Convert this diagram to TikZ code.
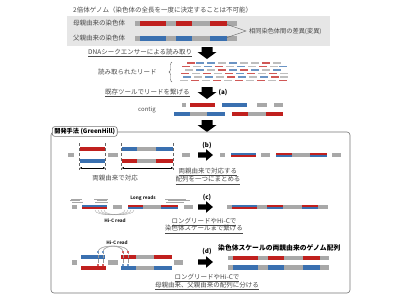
\documentclass[tikz,border=0pt]{standalone}
\usepackage{fontspec}
\setmainfont{Noto Sans CJK JP}
\usetikzlibrary{arrows.meta,decorations.pathreplacing}
\definecolor{rd}{HTML}{C0201E}
\definecolor{bl}{HTML}{3A70B0}
\definecolor{gr}{HTML}{A8A8A8}
\definecolor{bg}{HTML}{E6E6E6}
\definecolor{tx}{HTML}{484848}
\newcommand{\bseg}[4]{\fill[#1] (#2,{#4-2.2}) rectangle (#3,{#4+2.2});}
\newcommand{\mseg}[5]{\fill[#1] (#3,{#5-2.4}) rectangle (#4,#5); \fill[#2] (#3,#5) rectangle (#4,{#5+2.4});}
\newcommand{\myrarr}[2]{\fill (#1,{#2-2.6}) -- ({#1+8},{#2-2.6}) -- ({#1+8},{#2-5.8}) -- ({#1+15},#2) -- ({#1+8},{#2+5.8}) -- ({#1+8},{#2+2.6}) -- (#1,{#2+2.6}) -- cycle;}
\newcommand{\mydarr}[3]{\fill ({#1-5.5},#2) -- ({#1+5.5},#2) -- ({#1+5.5},{#3-7}) -- ({#1+9.5},{#3-7}) -- (#1,#3) -- ({#1-9.5},{#3-7}) -- ({#1-5.5},{#3-7}) -- cycle;}
\tikzset{
  jp/.style={font=\fontsize{6.5}{7.5}\selectfont, text=tx, inner sep=0pt},
  lab/.style={font=\fontsize{6.2}{7}\selectfont\bfseries, inner sep=0pt},
  sm/.style={font=\fontsize{4.6}{5.5}\selectfont\bfseries, inner sep=0pt, text=black!85},
  dline/.style={densely dashed, line width=0.3pt, black!60},
  dim/.style={{Latex[length=2.4pt,width=2pt]}-{Latex[length=2.4pt,width=2pt]}, line width=0.4pt},
  lread/.style={line width=0.4pt, black!35},
  hic/.style={line width=0.3pt, black!40},
}
\begin{document}
\begin{tikzpicture}[x=1pt,y=-1pt]
\useasboundingbox (0,0) rectangle (400,300);
% top genome
\node[jp, anchor=west] (title) at (73,10) {2倍体ゲノム（染色体の全長を一度に決定することは不可能）};
\fill[bg] (67,16) rectangle (330,46);
\node[jp, anchor=west] (mom) at (73,23.5) {母親由来の染色体};
\node[jp, anchor=west] (dad) at (73,38.5) {父親由来の染色体};
\bseg{gr}{135}{237}{23.5}
\bseg{rd}{140}{166}{23.5}\bseg{rd}{176}{192}{23.5}\bseg{rd}{210}{227}{23.5}
\bseg{gr}{135}{237}{38.5}
\bseg{bl}{140}{166}{38.5}\bseg{bl}{176}{192}{38.5}\bseg{bl}{210}{227}{38.5}
\coordinate (v1) at (227,24.5);
\coordinate (v2) at (227,37.5);
\node[jp, font=\fontsize{6.2}{7}\selectfont, anchor=west] (var) at (249,31) {相同染色体間の差異(変異)};
\draw[line width=0.4pt, black!60] (v1) -- ([xshift=-3pt]var.west) -- (v2);
% arrow 1
\mydarr{207}{47}{59}
\node[jp, anchor=west] (seq) at (88,53) {\underline{DNAシークエンサーによる読み取り}};
% reads
\node[jp, anchor=west] (reads) at (98,72) {読み取られたリード};
\draw[line width=0.4pt, black!60, decorate, decoration={brace, amplitude=3pt}] (172,82) -- (172,62);
\foreach \x/\c in {187/rd,196/bl,207/bl,218/gr,229/bl,240/gr,251/gr,262/rd,273/gr}
  \draw[\c!75, line width=1.1pt] (\x,63) -- ++(8,0);
\foreach \x/\c in {182/rd,193/gr,204/bl,215/rd,226/gr,237/bl,248/gr,259/rd,270/gr,279/bl}
  \draw[\c!75, line width=1.1pt] (\x,66.5) -- ++(8,0);
\foreach \x/\c in {185/gr,196/bl,207/gr,218/rd,229/bl,240/rd,251/bl,262/gr,273/bl}
  \draw[\c!75, line width=1.1pt] (\x,70) -- ++(8,0);
\foreach \x/\c in {181/rd,192/gr,203/rd,214/gr,225/rd,236/bl,247/rd,258/gr,269/rd,280/gr}
  \draw[\c!75, line width=1.1pt] (\x,73.5) -- ++(8,0);
\foreach \x/\c in {183/bl,194/gr,205/bl,216/gr,227/rd,238/bl,249/gr,260/bl,271/rd,280/gr}
  \draw[\c!75, line width=1.1pt] (\x,77) -- ++(8,0);
\foreach \x/\c in {180/gr,191/rd,202/gr,213/rd,224/gr,235/rd,246/gr,257/rd,268/gr,279/rd}
  \draw[\c!75, line width=1.1pt] (\x,80.5) -- ++(8,0);
% arrow 2
\mydarr{207}{87}{99}
\node[jp, anchor=west] (asm) at (105,93) {\underline{既存ツールでリードを繋げる}};
\node[lab] (la) at (223,92.5) {(a)};
% contigs
\node[jp, font=\fontsize{6}{7}\selectfont] (contig) at (147,110) {contig};
\bseg{gr}{182}{186}{105}\bseg{rd}{190}{215}{105}\bseg{bl}{222}{247}{105}\bseg{gr}{257}{267}{105}\bseg{gr}{274}{283}{105}
\bseg{bl}{174}{190}{114}\bseg{gr}{190}{207}{114}\bseg{bl}{207}{225}{114}
\bseg{rd}{232}{248}{114}\bseg{gr}{248}{266}{114}\bseg{rd}{266}{283}{114}
% arrow 3
\mydarr{207}{120}{132}
% box
\draw[draw=black!55, rounded corners=3pt, line width=0.6pt] (51,132) rectangle (350,293);
\node[draw=black!55, rounded corners=2.5pt, fill=white, line width=0.6pt, font=\fontsize{6.2}{7}\selectfont\bfseries, inner xsep=2pt, inner ysep=1.6pt, anchor=west] (gh) at (52,131.5) {開発手法 (GreenHill)};
% (b)
\bseg{gr}{68}{74}{155}
\bseg{rd}{80}{105}{149}\bseg{bl}{80}{105}{161}
\bseg{gr}{108}{118}{155}
\bseg{bl}{122}{137}{149}\bseg{gr}{137}{156}{149}\bseg{bl}{156}{173}{149}
\bseg{rd}{122}{137}{161}\bseg{gr}{137}{156}{161}\bseg{rd}{156}{173}{161}
\bseg{gr}{182}{190}{155}
\coordinate (p1t) at (79.5,143); \coordinate (p1b) at (79.5,170);
\coordinate (p2t) at (105.5,143); \coordinate (p2b) at (105.5,170);
\coordinate (p3t) at (121.5,143); \coordinate (p3b) at (121.5,170);
\coordinate (p4t) at (173.5,143); \coordinate (p4b) at (173.5,170);
\draw[dline] (p1t) -- (p1b); \draw[dline] (p2t) -- (p2b);
\draw[dline] (p3t) -- (p3b); \draw[dline] (p4t) -- (p4b);
\coordinate (q1) at (79.5,168); \coordinate (q2) at (105.5,168);
\coordinate (q3) at (121.5,168); \coordinate (q4) at (173.5,168);
\draw[dim] (q1) -- (q2); \draw[dim] (q3) -- (q4);
\node[jp] (corr) at (115,178) {両親由来で対応};
\myrarr{198}{155}
\node[lab] (lb) at (207,145.5) {(b)};
\bseg{gr}{220}{225}{155}\mseg{bl}{rd}{231}{256}{155}\bseg{gr}{261}{270}{155}
\mseg{rd}{bl}{276}{292}{155}\bseg{gr}{292}{310}{155}\mseg{rd}{bl}{310}{327}{155}\bseg{gr}{332}{341}{155}
\node[jp] (tb1) at (208,172) {\underline{両親由来で対応する}};
\node[jp] (tb2) at (208,180.5) {\underline{配列を一つにまとめる}};
% (c)
\draw[lread] (71,198.7) -- (82,198.7); \draw[lread] (70,200.4) -- (80,200.4); \draw[lread] (72,202.1) -- (83,202.1);
\draw[lread] (94,198.7) -- (108,198.7); \draw[lread] (97,200.4) -- (107,200.4); \draw[lread] (95,202.1) -- (108,202.1);
\draw[lread] (165,198.7) -- (186,198.7); \draw[lread] (168,200.4) -- (190,200.4); \draw[lread] (166,202.1) -- (184,202.1);
\node[sm] (lr) at (143,198.5) {Long reads};
\bseg{gr}{72}{77}{207}\mseg{bl}{rd}{82}{107}{207}\bseg{gr}{113}{122}{207}
\mseg{rd}{bl}{128}{143}{207}\bseg{gr}{143}{161}{207}\mseg{rd}{bl}{161}{178}{207}\bseg{gr}{184}{193}{207}
\foreach \a/\b in {95/125,98/128,101/131,104/134}
  \draw[hic] (\a,210) .. controls (\a,216.5) and (\b,216.5) .. (\b,210);
\node[sm] (hc) at (115,220.5) {Hi-C read};
\myrarr{198}{207}
\node[lab] (lc) at (207,198) {(c)};
\bseg{gr}{227}{232}{207}\mseg{bl}{rd}{232}{257}{207}\bseg{gr}{257}{267}{207}
\mseg{rd}{bl}{267}{283}{207}\bseg{gr}{283}{302}{207}\mseg{rd}{bl}{302}{318}{207}\bseg{gr}{318}{328}{207}
\node[jp] (tc1) at (204,221.5) {\underline{ロングリードやHi-Cで}};
\node[jp] (tc2) at (204,229.5) {\underline{染色体スケールまで繋げる}};
% (d)
\node[sm] (hd) at (117,243) {Hi-C read};
\bseg{bl}{81}{105}{257}\bseg{rd}{121}{136}{257}\bseg{gr}{136}{154}{257}\bseg{rd}{154}{172}{257}
\bseg{gr}{72}{77}{262.5}\bseg{gr}{108}{118}{262.5}\bseg{gr}{174}{183}{262.5}
\bseg{rd}{81}{106}{268}\bseg{bl}{121}{136}{268}\bseg{gr}{136}{154}{268}\bseg{bl}{154}{172}{268}
\foreach \a/\b in {98/123,103/128,98/128,103/123}
  \draw[hic] (\a,252) .. controls (\a,244) and (\b,244) .. (\b,252);
\foreach \x in {98,103} {\draw[hic, densely dotted] (\x,252) -- (\x,264);
  \fill[bl!70] (\x-1.2,251) rectangle (\x+1.2,253); \fill[rd!70] (\x-1.2,263.5) rectangle (\x+1.2,265.5);}
\foreach \x in {123,128} {\draw[hic, densely dotted] (\x,252) -- (\x,264);
  \fill[rd!70] (\x-1.2,251) rectangle (\x+1.2,253); \fill[bl!70] (\x-1.2,263.5) rectangle (\x+1.2,265.5);}
\myrarr{198}{262}
\node[lab] (ld) at (207,252) {(d)};
\node[font=\fontsize{6.8}{8}\selectfont\bfseries, inner sep=0pt, anchor=west] (res) at (218,248) {染色体スケールの両親由来のゲノム配列};
\bseg{gr}{228}{329}{258}
\bseg{rd}{233}{258}{258}\bseg{rd}{268}{284}{258}\bseg{rd}{303}{320}{258}
\bseg{gr}{228}{329}{267.5}
\bseg{bl}{233}{258}{267.5}\bseg{bl}{268}{284}{267.5}\bseg{bl}{303}{320}{267.5}
\node[jp] (td1) at (207,277.5) {\underline{ロングリードやHi-Cで}};
\node[jp] (td2) at (207,286) {\underline{母親由来、父親由来の配列に分ける}};
\end{tikzpicture}
\end{document}
